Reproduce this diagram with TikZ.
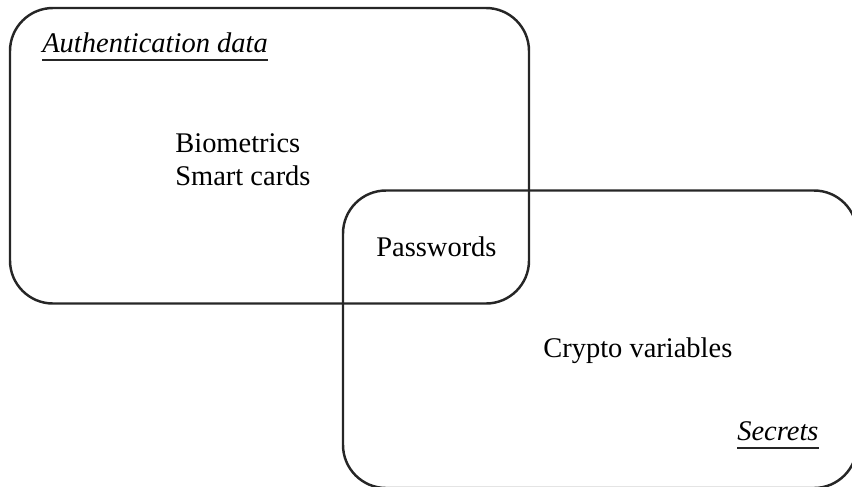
\documentclass[tikz,border=0pt]{standalone}
\usepackage{fontspec}
\setmainfont{Liberation Serif}
\usetikzlibrary{positioning}

\tikzset{
	setbox/.style={draw=black!85, line width=1.4pt, rounded corners=0.86cm},
	item/.style={anchor=base west, inner sep=0pt, font=\fontsize{16.2}{19}\selectfont},
	title/.style={item, font=\fontsize{16.2}{19}\selectfont\itshape},
	rule/.style={black!85, line width=1.1pt}
}

\begin{document}
\begin{tikzpicture}
			\useasboundingbox (0, 0) rectangle (17.04, -9.72);

			% the two sets
			\draw[setbox]	(0.2, -0.16) rectangle (10.58, -6.07);
			\draw[setbox]	(6.86, -3.81) rectangle (17.14, -9.76);

			% headings
			\node[title] (authlbl)	at (0.84, -1.04)	{Authentication data};
			\node[title] (seclbl)	at (14.74, -8.8)	{Secrets};
			\draw[rule]	([yshift=-4pt]authlbl.south west) to ([yshift=-4pt]authlbl.south east);
			\draw[rule]	([yshift=-4pt]seclbl.south west) to ([yshift=-4pt]seclbl.south east);

			% members
			\node[item] (bio)	at (3.5, -3.04)	{Biometrics};
			\node[item] (smart)	at (3.5, -3.7)	{Smart cards};
			\node[item] (pwd)	at (7.52, -5.12)	{Passwords};
			\node[item] (crypto)	at (10.86, -7.14)	{Crypto variables};
		\end{tikzpicture}
\end{document}
